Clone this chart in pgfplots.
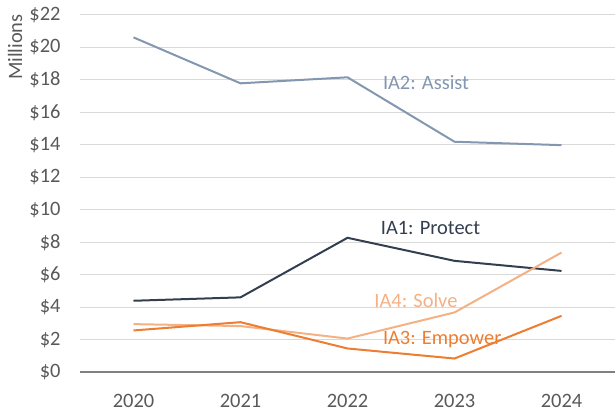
\documentclass[border=0pt]{standalone}
\usepackage{pgfplots}
\pgfplotsset{compat=1.18}
\usepackage{fontspec}
\setmainfont{Carlito}
\definecolor{assist}{HTML}{8497B0}
\definecolor{protect}{HTML}{333F50}
\definecolor{solve}{HTML}{F4B183}
\definecolor{empower}{HTML}{ED7D31}
\definecolor{txt}{HTML}{595959}
\definecolor{grd}{HTML}{D9D9D9}
\begin{document}
\begin{tikzpicture}[x=1bp,y=1bp]
\begin{axis}[
  scale only axis,
  width=535bp, height=357bp,
  xmin=-0.5, xmax=4.5,
  ymin=0, ymax=22,
  xtick={0,1,2,3,4},
  xticklabels={2020,2021,2022,2023,2024},
  ytick={0,2,...,22},
  yticklabel={\$\pgfmathprintnumber{\tick}},
  /pgf/number format/assume math mode=true,
  tick label style={font=\fontsize{20.5}{24}\selectfont, text=txt},
  yticklabel style={xshift=-16bp},
  xticklabel style={yshift=-19bp},
  axis line style={draw=none},
  axis x line*=bottom,
  axis y line*=left,
  major tick length=0pt,
  ymajorgrids,
  grid style={grd, line width=1bp},
  clip=false,
]
\addplot[assist, line width=2bp] coordinates {(0,20.62) (1,17.79) (2,18.16) (3,14.19) (4,13.98)};
\addplot[protect, line width=2bp] coordinates {(0,4.39) (1,4.60) (2,8.27) (3,6.85) (4,6.23)};
\addplot[solve, line width=2bp] coordinates {(0,2.95) (1,2.83) (2,2.06) (3,3.67) (4,7.36)};
\addplot[empower, line width=2bp] coordinates {(0,2.56) (1,3.07) (2,1.45) (3,0.83) (4,3.46)};
\draw[color=gray, line width=2.5bp] (axis cs:-0.5,0) -- (axis cs:4.5,0);
\node[anchor=west, inner sep=0pt, text=assist, font=\fontsize{20.5}{24}\selectfont] at (axis cs:2.33,17.85) {IA2: Assist};
\node[anchor=west, inner sep=0pt, text=protect, font=\fontsize{20.5}{24}\selectfont] at (axis cs:2.31,8.87) {IA1: Protect};
\node[anchor=west, inner sep=0pt, text=solve, font=\fontsize{20.5}{24}\selectfont] at (axis cs:2.25,4.39) {IA4: Solve};
\node[anchor=west, inner sep=0pt, text=empower, font=\fontsize{20.5}{24}\selectfont] at (axis cs:2.33,2.0) {IA3: Empower};
\node[rotate=90, inner sep=0pt, text=txt, font=\fontsize{20.5}{24}\selectfont] at (axis description cs:-0.1215,0.91) {Millions};
\end{axis}
\pgfresetboundingbox
\path[use as bounding box] (current axis.south west) ++(-80bp,-42bp) rectangle ++(615bp,414bp);
\end{tikzpicture}
\end{document}
